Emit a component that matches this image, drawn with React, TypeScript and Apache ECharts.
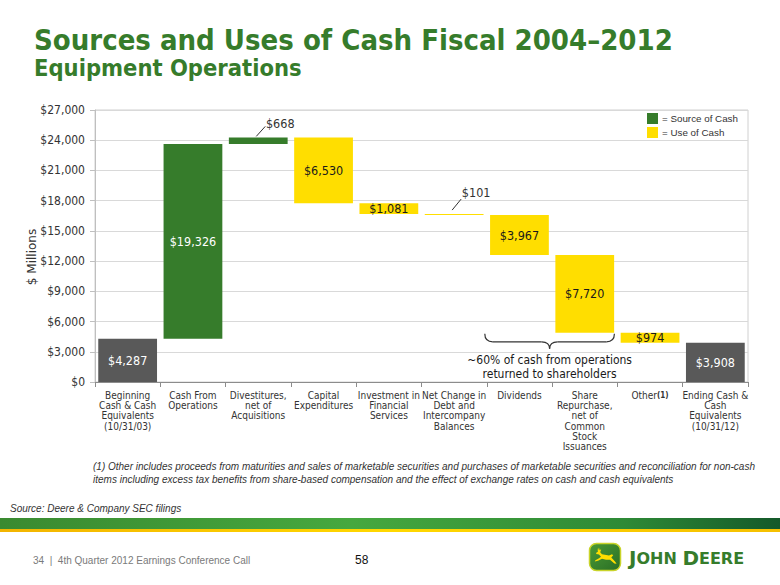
import React, { useEffect, useRef } from 'react';
import * as echarts from 'echarts';

const categories = [
  'Beginning\nCash & Cash\nEquivalents\n(10/31/03)',
  'Cash From\nOperations',
  'Divestitures,\nnet of\nAcquisitions',
  'Capital\nExpenditures',
  'Investment in\nFinancial\nServices',
  'Net Change in\nDebt and\nIntercompany\nBalances',
  'Dividends',
  'Share\nRepurchase,\nnet of\nCommon\nStock\nIssuances',
  'Other{b|(1)}',
  'Ending Cash &\nCash\nEquivalents\n(10/31/12)',
];
const amounts = [4287, 19326, 668, 6530, 1081, 101, 3967, 7720, 974, 3908];
const kinds = ['total', 'source', 'source', 'use', 'use', 'use', 'use', 'use', 'use', 'total'];
const yMin = 0;
const yMax = 27000;
const yStep = 3000;

const title = 'Sources and Uses of Cash Fiscal 2004\u20132012';
const subtitle = 'Equipment Operations';
const legendItems = ['= Source of Cash', '= Use of Cash'];
const braceNote = '~60% of cash from operations\nreturned to shareholders';
const footnote1 = '(1) Other includes proceeds from maturities and sales of marketable securities and purchases of marketable securities and reconciliation for non-cash';
const footnote2 = 'items including excess tax benefits from share-based compensation and the effect of exchange rates on cash and cash equivalents';
const sourceNote = 'Source: Deere & Company SEC filings';
const footerText = '34  |  4th Quarter 2012 Earnings Conference Call';
const pageNo = '58';

const COLORS: Record<string, string> = { total: '#595959', source: '#367c2b', use: '#ffde00' };
const GREEN = '#367c2b';
const COND = 'DejaVu Sans Condensed, DejaVu Sans, sans-serif';
const ARIAL = 'Liberation Sans, Arial, sans-serif';

function buildWaterfall() {
  const base: number[] = [];
  const height: number[] = [];
  let running = 0;
  amounts.forEach((a, i) => {
    const k = kinds[i];
    if (k === 'total') {
      base.push(0);
      height.push(a);
      running = a;
    } else if (k === 'source') {
      base.push(running);
      height.push(a);
      running += a;
    } else {
      running -= a;
      base.push(running);
      height.push(a);
    }
  });
  return { base, height };
}

const fmt = (v: number) => '$' + v.toLocaleString('en-US');

const deerPath =
  'M4 1 L5 3 L6 0.5 L6.6 3.2 L8.2 2.2 L7.2 5 L9 7 L16 8 L19 6.8 L20.2 7.8 L18.3 10 L22 13.8 L23.6 16 L21.4 15.6 L17 12.2 L13 12.2 L9 11.2 L5 13.2 L1.8 13.8 L2.4 12.6 L6 10.8 L8 9.4 L6 7.2 L3.4 6.6 L3 5.6 L5 4.4 Z';

export default function App() {
  const ref = useRef<HTMLDivElement>(null);

  useEffect(() => {
    if (!ref.current) return;
    try {
      echarts.graphic.registerShape('deer', echarts.graphic.extendPath(deerPath, {}) as any);
    } catch (e) {
      /* ignore */
    }
    const chart = echarts.init(ref.current, undefined, { renderer: 'svg' });
    const { base, height } = buildWaterfall();

    const labelFor = (i: number): any => {
      const k = kinds[i];
      const common = { show: true, fontFamily: COND, fontSize: 12.5, formatter: () => fmt(amounts[i]) };
      if (i === 2) return { ...common, position: 'top', color: '#333', offset: [22, -2] };
      if (i === 5) return { ...common, position: 'top', color: '#333', offset: [22, -10] };
      return { ...common, position: 'inside', color: k === 'use' ? '#1a1a1a' : '#ffffff' };
    };

    const option: any = {
      animation: false,
      backgroundColor: '#ffffff',
      grid: { left: 95, right: 32, top: 110, bottom: 203, show: true, borderColor: '#d0d0d0', borderWidth: 1 },
      xAxis: {
        type: 'category',
        data: categories,
        axisLine: { lineStyle: { color: '#8c8c8c' } },
        axisTick: { show: true, length: 5, lineStyle: { color: '#8c8c8c' } },
        axisLabel: {
          interval: 0,
          color: '#333',
          fontFamily: COND,
          fontSize: 10,
          lineHeight: 10.3,
          margin: 8,
          rich: { b: { fontWeight: 'bold', fontSize: 8, fontFamily: COND, color: '#333' } },
        },
      },
      yAxis: {
        type: 'value',
        min: yMin,
        max: yMax,
        interval: yStep,
        axisLine: { show: true, lineStyle: { color: '#bfbfbf' } },
        axisTick: { show: true, length: 5, lineStyle: { color: '#bfbfbf' } },
        axisLabel: { color: '#333', fontFamily: COND, fontSize: 12, margin: 10, formatter: (v: number) => fmt(v) },
        splitLine: { lineStyle: { color: '#d9d9d9' } },
      },
      series: [
        {
          type: 'bar',
          stack: 'w',
          silent: true,
          itemStyle: { color: 'transparent' },
          data: base,
          barCategoryGap: '10%',
        },
        {
          type: 'bar',
          stack: 'w',
          barCategoryGap: '10%',
          data: height.map((h, i) => ({
            value: h,
            itemStyle: { color: COLORS[kinds[i]] },
            label: labelFor(i),
          })),
        },
      ],
    };
    chart.setOption(option);

    const px = (i: number, v: number) => chart.convertToPixel({ xAxisIndex: 0, yAxisIndex: 0 }, [i, v]) as number[];

    const graphics: any[] = [];
    // leader lines
    [2, 5].forEach((i) => {
      const [cx, top] = px(i, base[i] + height[i]);
      const dy = i === 2 ? 11 : 15;
      graphics.push({
        type: 'line',
        shape: { x1: cx - 2, y1: top - (i === 2 ? 1 : 4), x2: cx + 7, y2: top - dy },
        style: { stroke: '#333', lineWidth: 1 },
      });
    });

    // brace under dividends + share repurchase
    const [c6] = px(6, 0);
    const [c7, y7] = px(7, base[7]);
    const hw = (c7 - c6) / 2;
    const L = c6 - hw - 2;
    const R = c7 + hw - 3;
    const M = (L + R) / 2;
    const y0 = y7 + 1;
    const bs = { stroke: '#333', lineWidth: 1.2, fill: null };
    graphics.push(
      { type: 'bezierCurve', shape: { x1: L, y1: y0, x2: L + 8, y2: y0 + 8, cpx1: L, cpy1: y0 + 8 }, style: bs },
      { type: 'line', shape: { x1: L + 8, y1: y0 + 8, x2: M - 8, y2: y0 + 8 }, style: bs },
      { type: 'bezierCurve', shape: { x1: M - 8, y1: y0 + 8, x2: M, y2: y0 + 15, cpx1: M, cpy1: y0 + 8 }, style: bs },
      { type: 'bezierCurve', shape: { x1: M, y1: y0 + 15, x2: M + 8, y2: y0 + 8, cpx1: M, cpy1: y0 + 8 }, style: bs },
      { type: 'line', shape: { x1: M + 8, y1: y0 + 8, x2: R - 8, y2: y0 + 8 }, style: bs },
      { type: 'bezierCurve', shape: { x1: R - 8, y1: y0 + 8, x2: R, y2: y0, cpx1: R, cpy1: y0 + 8 }, style: bs },
      {
        type: 'text',
        x: M,
        y: y0 + 19,
        style: {
          text: braceNote,
          fill: '#1a1a1a',
          font: `12px ${COND}`,
          textAlign: 'center',
          align: 'center',
          textVerticalAlign: 'top',
          verticalAlign: 'top',
          lineHeight: 14,
        },
      }
    );

    const txt = (x: number, y: number, text: string, font: string, fill: string, align = 'left', extra: any = {}, lh?: number) => ({
      type: 'text',
      x,
      y,
      ...extra,
      style: {
        text,
        font,
        fill,
        textAlign: align,
        align,
        textVerticalAlign: 'middle',
        verticalAlign: 'middle',
        ...(lh ? { lineHeight: lh } : {}),
      },
    });

    graphics.push(
      txt(34, 39.5, title, `bold 29px ${COND}`, GREEN, 'left', {}, 29),
      txt(34, 68, subtitle, `bold 23.5px ${COND}`, GREEN, 'left', {}, 24),
      txt(32, 257, '$ Millions', `12px DejaVu Sans, sans-serif`, '#333', 'center', { rotation: Math.PI / 2 }),
      // legend
      { type: 'rect', shape: { x: 647, y: 113, width: 11, height: 11 }, style: { fill: COLORS.source } },
      txt(662, 118.5, legendItems[0], `9.8px ${ARIAL}`, '#333'),
      { type: 'rect', shape: { x: 647, y: 127, width: 11, height: 11 }, style: { fill: COLORS.use } },
      txt(662, 132.5, legendItems[1], `9.8px ${ARIAL}`, '#333'),
      // footnotes
      txt(93, 466, footnote1, `italic 10px ${ARIAL}`, '#333'),
      txt(93, 479, footnote2, `italic 10px ${ARIAL}`, '#333'),
      txt(10, 508, sourceNote, `italic 10px ${ARIAL}`, '#333'),
      // footer band
      {
        type: 'rect',
        shape: { x: 0, y: 518, width: 780, height: 11 },
        style: {
          fill: new echarts.graphic.LinearGradient(0, 0, 1, 0, [
            { offset: 0, color: '#3a8a30' },
            { offset: 0.45, color: '#46a83f' },
            { offset: 0.8, color: '#2e8a36' },
            { offset: 1, color: '#14592a' },
          ]),
        },
      },
      {
        type: 'rect',
        shape: { x: 0, y: 529, width: 780, height: 3 },
        style: {
          fill: new echarts.graphic.LinearGradient(0, 0, 1, 0, [
            { offset: 0, color: '#f2b400' },
            { offset: 0.5, color: '#ffd800' },
            { offset: 1, color: '#f5c000' },
          ]),
        },
      },
      txt(33, 560, footerText, `10px ${ARIAL}`, '#7a7a7a'),
      txt(355, 560, pageNo, `12px ${ARIAL}`, '#111'),
      // logo
      {
        type: 'rect',
        shape: { x: 589.5, y: 543.5, width: 31, height: 27, r: 7 },
        style: {
          fill: new echarts.graphic.LinearGradient(0, 0, 1, 1, [
            { offset: 0, color: '#4a9a36' },
            { offset: 1, color: '#2a6e25' },
          ]),
          stroke: '#c9d42a',
          lineWidth: 1.5,
        },
      },
      { type: 'deer', x: 593, y: 547, scaleX: 1, scaleY: 1.05, style: { fill: '#ffde00' } },
      {
        type: 'text',
        x: 629,
        y: 558,
        style: {
          text: '{a|J}{b|OHN }{a|D}{b|EERE}',
          textVerticalAlign: 'middle',
          verticalAlign: 'middle',
          rich: {
            a: { fontSize: 20, fontFamily: 'DejaVu Sans, sans-serif', fontWeight: 'bold', fill: GREEN, color: GREEN },
            b: { fontSize: 16, fontFamily: 'DejaVu Sans, sans-serif', fontWeight: 'bold', fill: GREEN, color: GREEN },
          },
        },
      }
    );

    chart.setOption({ graphic: { elements: graphics } });

    return () => chart.dispose();
  }, []);

  return (
    <div
      ref={ref}
      style={{ position: 'fixed', left: 0, top: 0, width: 780, height: 585, background: '#fff' }}
    />
  );
}
